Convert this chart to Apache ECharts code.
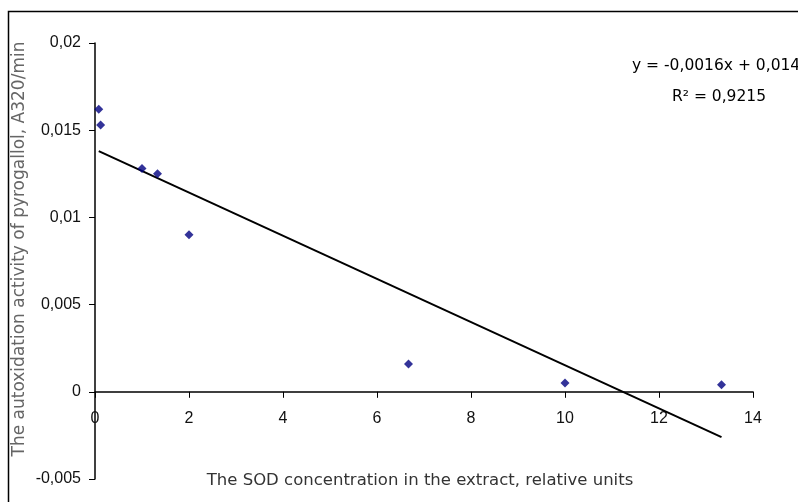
<!DOCTYPE html>
<html>
<head>
<meta charset="utf-8">
<script src="https://cdn.jsdelivr.net/npm/echarts@6/dist/echarts.min.js"></script>
<style>
    html, body { margin: 0; padding: 0; background: #fff; }
    #chart { width: 798px; height: 502px; }
</style>
</head>
<body>
<div id="chart"></div>
<script>
// measured points (SOD concentration, autoxidation rate)
const sodConc = [0.08, 0.12, 1.0, 1.33, 2.0, 6.67, 10.0, 13.33];
const activity = [0.0162, 0.0153, 0.0128, 0.0125, 0.0090, 0.0016, 0.0005, 0.0004];

// trend line end points as drawn
const trendX = [0.08, 13.33];
const trendY = [0.0138, -0.0026];

const xTitle = 'The SOD concentration in the extract, relative units';
const yTitle = 'The autoxidation activity of pyrogallol, A320/min';
const equationText = 'y = -0,0016x + 0,0149';
const r2Text = 'R² = 0,9215';

const tickFont = 'Liberation Sans, Arial, sans-serif';
const textFont = 'DejaVu Sans, sans-serif';

function fmt(v) {
    return String(+v.toFixed(4)).replace('.', ',');
}

let chart = echarts.init(document.getElementById('chart'), null, { renderer: 'canvas' });

let option = {
    backgroundColor: '#fff',
    animation: false,
    grid: { left: 95, right: 45, top: 43, bottom: 23, outerBoundsMode: 'none' },
    xAxis: {
        type: 'value',
        min: 0,
        max: 14,
        interval: 2,
        offset: 0,
        axisLine: { show: true, onZero: false, lineStyle: { color: '#000', width: 1.5 } },
        axisTick: { show: true, length: 6, lineStyle: { color: '#000' } },
        axisLabel: { color: '#111', fontSize: 16, fontFamily: tickFont, margin: 19 },
        splitLine: { show: false }
    },
    yAxis: {
        type: 'value',
        min: -0.005,
        max: 0.02,
        interval: 0.005,
        axisLine: { show: true, lineStyle: { color: '#000', width: 1.5 } },
        axisTick: { show: true, length: 6, lineStyle: { color: '#000' } },
        axisLabel: { color: '#111', fontSize: 16, fontFamily: tickFont, margin: 14, formatter: fmt },
        splitLine: { show: false }
    },
    graphic: [
        {
            type: 'rect',
            shape: { x: 8.5, y: 11.5, width: 900, height: 600 },
            style: { fill: null, stroke: '#000', lineWidth: 1.5 },
            silent: true
        },
        {
            type: 'text',
            x: 420,
            y: 481,
            style: { text: xTitle, fill: '#333', fontSize: 16.5, fontFamily: textFont, align: 'center', verticalAlign: 'middle' }
        },
        {
            type: 'text',
            x: 20,
            y: 249,
            rotation: Math.PI / 2,
            style: { text: yTitle, fill: '#666', fontSize: 17, fontFamily: textFont, align: 'center', verticalAlign: 'middle' }
        },
        {
            type: 'text',
            x: 632,
            y: 66,
            style: { text: equationText, fill: '#000', fontSize: 15.5, fontFamily: textFont, verticalAlign: 'middle' }
        },
        {
            type: 'text',
            x: 672,
            y: 97,
            style: { text: r2Text, fill: '#000', fontSize: 15.5, fontFamily: textFont, verticalAlign: 'middle' }
        }
    ],
    series: [
        {
            name: 'Trend',
            type: 'line',
            data: trendX.map((x, i) => [x, trendY[i]]),
            symbol: 'none',
            lineStyle: { color: '#000', width: 2 },
            z: 2
        },
        {
            name: 'Activity',
            type: 'scatter',
            data: sodConc.map((x, i) => [x, activity[i]]),
            symbol: 'diamond',
            symbolSize: 9,
            itemStyle: { color: '#000080' },
            z: 3
        }
    ]
};

chart.setOption(option);

// move the whole x axis (line, ticks, labels) up to y = 0
let zeroPx = chart.convertToPixel({ yAxisIndex: 0 }, 0);
let bottomPx = chart.convertToPixel({ yAxisIndex: 0 }, -0.005);
chart.setOption({ xAxis: { offset: zeroPx - bottomPx } });
</script>
</body>
</html>
